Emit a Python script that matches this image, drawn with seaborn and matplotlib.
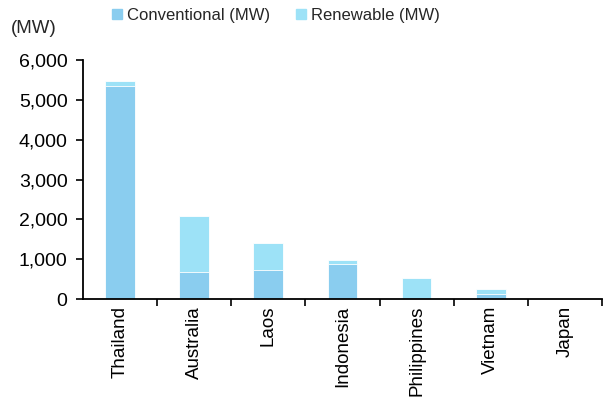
import matplotlib
matplotlib.use("Agg")
import matplotlib.pyplot as plt
from matplotlib.ticker import FuncFormatter, FixedLocator
import seaborn as sns
import pandas as pd

countries = ["Thailand", "Australia", "Laos", "Indonesia", "Philippines", "Vietnam", "Japan"]
conventional = [5350, 680, 720, 870, 0, 115, 0]
renewable = [120, 1400, 680, 120, 530, 135, 0]
yticks = [0, 1000, 2000, 3000, 4000, 5000, 6000]

conv_color = "#8ACDEF"
ren_color = "#9DE2F7"

sns.set_theme(style="white")
plt.rcParams["font.family"] = ["Liberation Sans", "DejaVu Sans"]

df = pd.DataFrame({
    "country": countries,
    "conventional": conventional,
    "total": [c + r for c, r in zip(conventional, renewable)],
})

fig = plt.figure(figsize=(6.05, 4.03), dpi=100)
ax = fig.add_axes([0.137, 0.258, 0.858, 0.593])

# stacked bars: full height in the renewable colour, conventional part on top of it
sns.barplot(data=df, x="country", y="total", color=ren_color, width=0.4,
            saturation=1, edgecolor="white", linewidth=0.6, ax=ax)
sns.barplot(data=df, x="country", y="conventional", color=conv_color, width=0.4,
            saturation=1, edgecolor="white", linewidth=0.6, ax=ax)

ax.set_xlim(-0.5, len(countries) - 0.5)
ax.set_ylim(0, 6000)
ax.set_yticks(yticks)
ax.yaxis.set_major_formatter(FuncFormatter(lambda v, p: f"{int(v):,}"))
ax.set_xlabel("")
ax.set_ylabel("")

for s in ["top", "right"]:
    ax.spines[s].set_visible(False)
for s in ["left", "bottom"]:
    ax.spines[s].set_color("black")
    ax.spines[s].set_linewidth(1.3)

ax.tick_params(axis="y", which="major", left=True, direction="out", length=5,
               width=1.2, color="black", labelsize=14, labelcolor="black", pad=6)
ax.tick_params(axis="x", which="major", bottom=False, length=0, labelsize=13.5,
               labelcolor="black", labelrotation=90, pad=5)
ax.xaxis.set_minor_locator(FixedLocator([i + 0.5 for i in range(len(countries))]))
ax.tick_params(axis="x", which="minor", bottom=True, direction="out", length=5,
               width=1.2, color="black")

fig.text(0.018, 0.93, "(MW)", fontsize=13.5, ha="left", va="center")

handles = [
    plt.Rectangle((0, 0), 1, 1, color=conv_color),
    plt.Rectangle((0, 0), 1, 1, color=ren_color),
]
fig.legend(handles, ["Conventional (MW)", "Renewable (MW)"], loc="center",
           bbox_to_anchor=(0.456, 0.962), ncol=2, frameon=False, fontsize=12,
           handlelength=0.6, handleheight=0.6, handletextpad=0.3, columnspacing=1.5)

fig.savefig("out.png", dpi=100)
